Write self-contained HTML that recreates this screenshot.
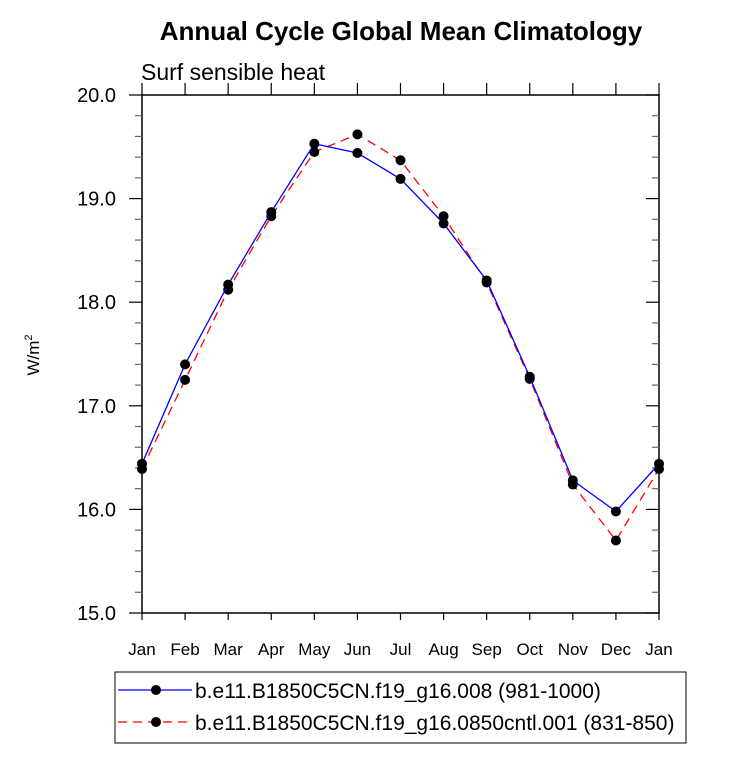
<!DOCTYPE html>
<html><head><meta charset="utf-8"><style>
body{margin:0;background:#fff;}
svg{display:block;font-family:"Liberation Sans",Arial,sans-serif;}
</style></head><body>
<svg id="c" width="733" height="763">
<text x="401" y="40" text-anchor="middle" font-size="26" font-weight="bold">Annual Cycle Global Mean Climatology</text>
<text x="141" y="80" font-size="23">Surf sensible heat</text>
<text transform="translate(39,355) rotate(-90)" text-anchor="middle" font-size="17">W/m<tspan font-size="11" dy="-7">2</tspan></text>
<g id="axes"></g><g id="marks"></g>
<rect x="115" y="672" width="571" height="71" fill="none" stroke="#000" stroke-width="1"/>
<g>
<line x1="118" y1="690" x2="192" y2="690" stroke="#00f" stroke-width="1.3"/><circle cx="156" cy="690" r="5" fill="#000"/>
<text x="195" y="698" font-size="21">b.e11.B1850C5CN.f19_g16.008 (981-1000)</text></g>
<g>
<line x1="118" y1="722" x2="192" y2="722" stroke="#f00" stroke-width="1.3" stroke-dasharray="9,6"/><circle cx="156" cy="722" r="5" fill="#000"/>
<text x="195" y="730" font-size="21">b.e11.B1850C5CN.f19_g16.0850cntl.001 (831-850)</text></g>
</svg>
<script>
const months=["Jan","Feb","Mar","Apr","May","Jun","Jul","Aug","Sep","Oct","Nov","Dec","Jan"];
const blueValues=[16.44,17.40,18.17,18.87,19.53,19.44,19.19,18.76,18.21,17.28,16.28,15.98,16.44];
const redValues=[16.39,17.25,18.12,18.83,19.45,19.62,19.37,18.83,18.19,17.26,16.24,15.70,16.39];
const yTicks=[15,16,17,18,19,20];
const yTickLabels=["15.0","16.0","17.0","18.0","19.0","20.0"];
const L=142,R=659,T=95,B=613,ymin=15,ymax=20;
const xs=i=>L+(R-L)*i/(months.length-1);
const ys=v=>B-(v-ymin)/(ymax-ymin)*(B-T);
const NS="http://www.w3.org/2000/svg";
function mk(p,t,a){const e=document.createElementNS(NS,t);for(const k in a)e.setAttribute(k,a[k]);p.appendChild(e);return e;}
const ax=document.getElementById('axes'),mg=document.getElementById('marks');
const fr=mk(ax,'rect',{x:L,y:T,width:R-L,height:B-T,fill:'none',stroke:'#000','stroke-width':1.5});


months.forEach((m,i)=>{const x=xs(i);
mk(ax,'line',{x1:x,y1:T,x2:x,y2:T-12,stroke:'#000','stroke-width':1.2});
mk(ax,'line',{x1:x,y1:B,x2:x,y2:B+7,stroke:'#000','stroke-width':1.2});
const t=mk(ax,'text',{x:x,y:655,'text-anchor':'middle','font-size':17});t.textContent=m;

});
for(let v=ymin;v<=ymax+1e-9;v+=0.2){const y=ys(v);const maj=Math.abs(v-Math.round(v))<1e-6;
mk(ax,'line',{x1:L,y1:y,x2:L-(maj?13:7),y2:y,stroke:maj?'#000':'#666','stroke-width':1.2});
mk(ax,'line',{x1:R,y1:y,x2:R-(maj?13:7),y2:y,stroke:maj?'#000':'#666','stroke-width':1.2});}
yTicks.forEach((v,i)=>{const t=mk(ax,'text',{x:116,y:ys(v)+7,'text-anchor':'end','font-size':20});t.textContent=yTickLabels[i];

});
function series(vals,col,dash,name){
const pl=mk(mg,'polyline',{points:vals.map((v,i)=>xs(i)+','+ys(v)).join(' '),fill:'none',stroke:col,'stroke-width':1.3,'stroke-dasharray':dash});


vals.forEach((v,i)=>{const c=mk(mg,'circle',{cx:xs(i),cy:ys(v),r:5,fill:'#000'});

});}
series(redValues,'#f00','9,6','red-series');
series(blueValues,'#00f','none','blue-series');
</script>
</body></html>
